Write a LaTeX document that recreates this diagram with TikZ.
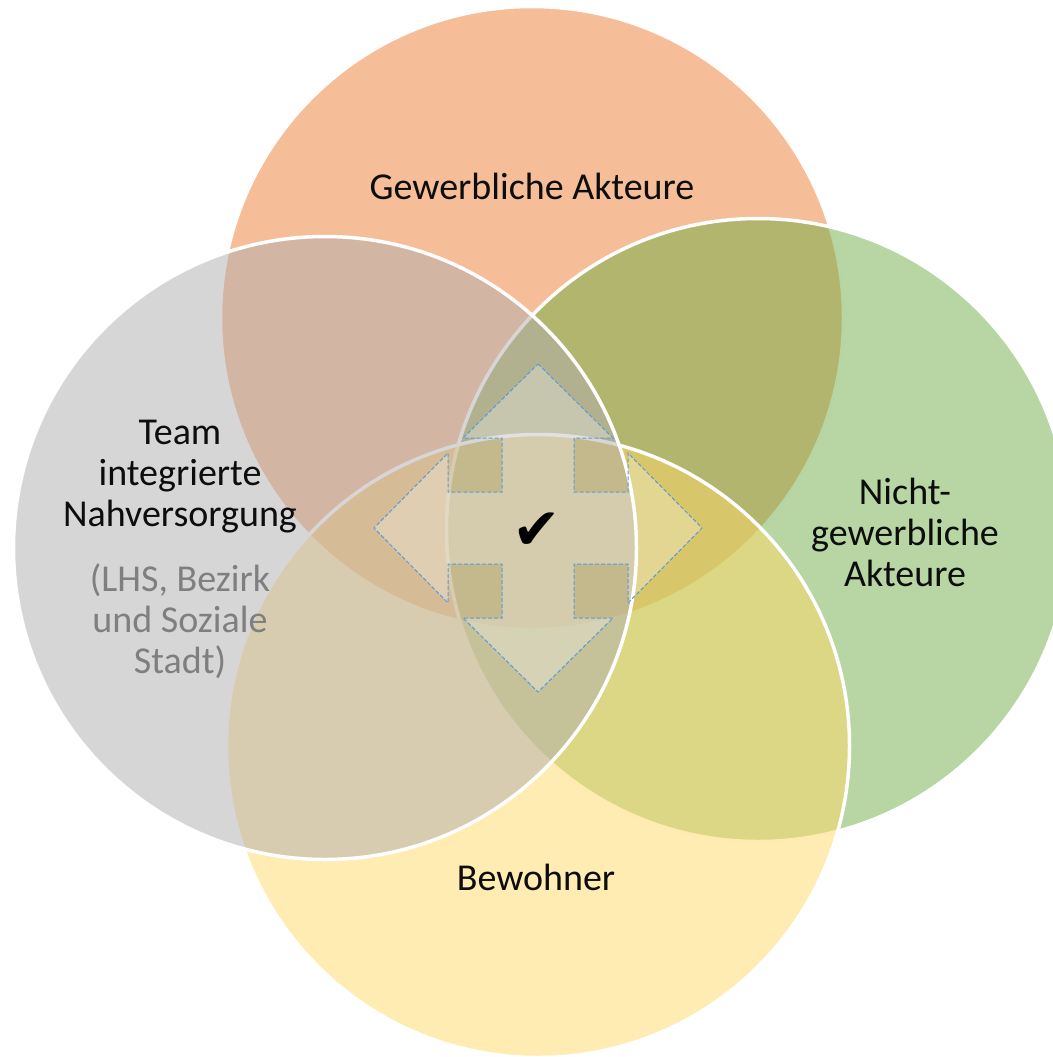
\documentclass[tikz,border=0pt]{standalone}
\usepackage{fontspec}
\setmainfont{Carlito}
\newfontfamily\checkfont{DejaVu Sans}
\usetikzlibrary{positioning}
\definecolor{gewerbcolor}{HTML}{ED7D31}
\definecolor{nichtcolor}{HTML}{70AD47}
\definecolor{bewohnercolor}{HTML}{FFD966}
\definecolor{teamcolor}{HTML}{B0ADAF}
\definecolor{labelcolor}{HTML}{0D0D0D}
\definecolor{sublabelcolor}{HTML}{7F7F7F}
\definecolor{arrowline}{HTML}{5B9BD5}
\tikzset{
vennset/.style={
  circle,
  draw=white,
  line width=3.5bp,
  fill opacity=0.5,
  minimum size=623bp,
  inner sep=0pt
},
labeltext/.style={
  align=center,
  inner sep=0pt,
  font=\fontsize{38bp}{41bp}\selectfont,
  text=labelcolor
},
sublabel/.style={
  labeltext,
  text=sublabelcolor
},
quadarrow/.style={
  draw=arrowline,
  line width=1bp,
  dash pattern=on 4bp off 2bp,
  fill=white,
  fill opacity=0.28
}
}
\begin{document}
\begin{tikzpicture}[x=1bp, y=-1bp]
  \useasboundingbox (0,0) rectangle (1053,1057);
  \clip (0,0) rectangle (1053,1057);
  % Circles
  \node[vennset, fill=gewerbcolor] (gewerb) at (532,318) {};
  \node[vennset, fill=nichtcolor] (nicht) at (758,530) {};
  \node[vennset, fill=bewohnercolor] (bewohner) at (538,746) {};
  \node[vennset, fill=teamcolor] (team) at (325,548) {};
  % Four-way arrow in the middle
  \draw[quadarrow, shift={(538,528)}]
    (0,-164) -- (75,-90) -- (36,-90) -- (36,-36) -- (90,-36) -- (90,-75)
    -- (164,0) -- (90,75) -- (90,36) -- (36,36) -- (36,90) -- (75,90)
    -- (0,164) -- (-75,90) -- (-36,90) -- (-36,36) -- (-90,36) -- (-90,75)
    -- (-164,0) -- (-90,-75) -- (-90,-36) -- (-36,-36) -- (-36,-90) -- (-75,-90)
    -- cycle;
  \node[inner sep=0pt, font=\checkfont\fontsize{58bp}{58bp}\selectfont] (check) at (537,531) {✔};
  % Labels
  \node[labeltext] (gewerblabel) at (532,186) {Gewerbliche Akteure};
  \node[labeltext] (teamlabel) at (180,477) {Team\\integrierte\\Nahversorgung};
  \node[sublabel, below=30bp of teamlabel] (teamsub) {(LHS, Bezirk\\und Soziale\\Stadt)};
  \node[labeltext] (nichtlabel) at (905,532) {Nicht-\\gewerbliche\\Akteure};
  \node[labeltext] (bewohnerlabel) at (536,877) {Bewohner};
\end{tikzpicture}
\end{document}
